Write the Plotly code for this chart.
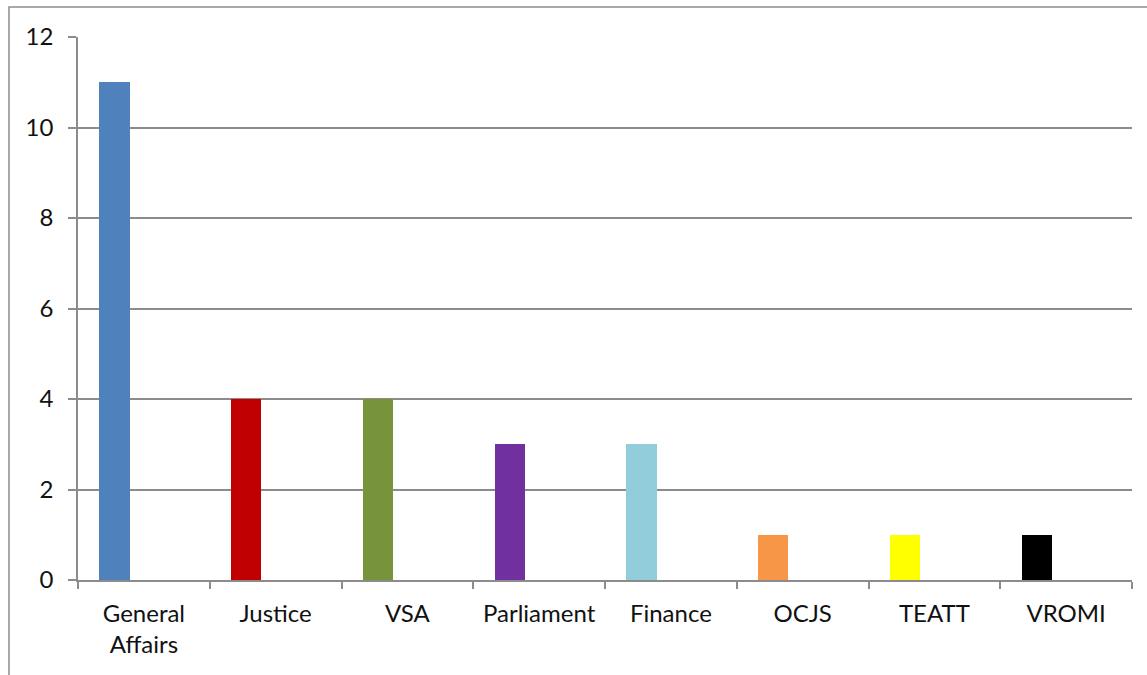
import plotly.graph_objects as go

# Ministries and their counts
categories = ["General<br>Affairs", "Justice", "VSA", "Parliament", "Finance", "OCJS", "TEATT", "VROMI"]
values = [11, 4, 4, 3, 3, 1, 1, 1]
bar_colors = ["#4F81BD", "#C00000", "#77933C", "#7030A0", "#92CDDC", "#F79646", "#FFFF00", "#000000"]
y_ticks = [0, 2, 4, 6, 8, 10, 12]

W, H = 1147, 675
L, R, T, B = 78, 15, 37, 95
pw, ph = W - L - R, H - T - B

fig = go.Figure(
    go.Bar(
        x=categories,
        y=values,
        marker=dict(color=bar_colors, line=dict(width=0)),
        width=0.228,
        offset=-0.337,
        hoverinfo="x+y",
    )
)

font = dict(family="Lato, 'Open Sans', sans-serif", size=24, color="#111111")
grid = "#8C8C8C"

fig.update_layout(
    width=W,
    height=H,
    margin=dict(l=L, r=R, t=T, b=B),
    paper_bgcolor="white",
    plot_bgcolor="white",
    showlegend=False,
    font=font,
    bargap=0,
    xaxis=dict(
        type="category",
        tickson="boundaries",
        ticks="outside",
        ticklen=7,
        tickwidth=1.5,
        tickcolor=grid,
        showline=True,
        linecolor=grid,
        linewidth=2,
        showgrid=False,
        tickangle=0,
        ticklabelstandoff=11,
        tickfont=font,
        fixedrange=True,
    ),
    yaxis=dict(
        range=[0, 12],
        tickvals=y_ticks,
        ticks="outside",
        ticklen=8,
        tickwidth=1.5,
        tickcolor=grid,
        showline=True,
        linecolor=grid,
        linewidth=1.5,
        showgrid=True,
        gridcolor=grid,
        gridwidth=1.5,
        zeroline=False,
        ticklabelstandoff=10,
        tickfont=font,
        fixedrange=True,
    ),
)

# Chart-area border
fig.add_shape(
    type="rect",
    xref="paper", yref="paper",
    x0=(9 - L) / pw, x1=(W + 20 - L) / pw,
    y0=-(H + 20 - (T + ph)) / ph, y1=1 + (T - 7) / ph,
    line=dict(color="#8C8C8C", width=1.5),
    fillcolor="rgba(0,0,0,0)",
    layer="below",
)

fig.write_html("out.html", config={"displayModeBar": False})
